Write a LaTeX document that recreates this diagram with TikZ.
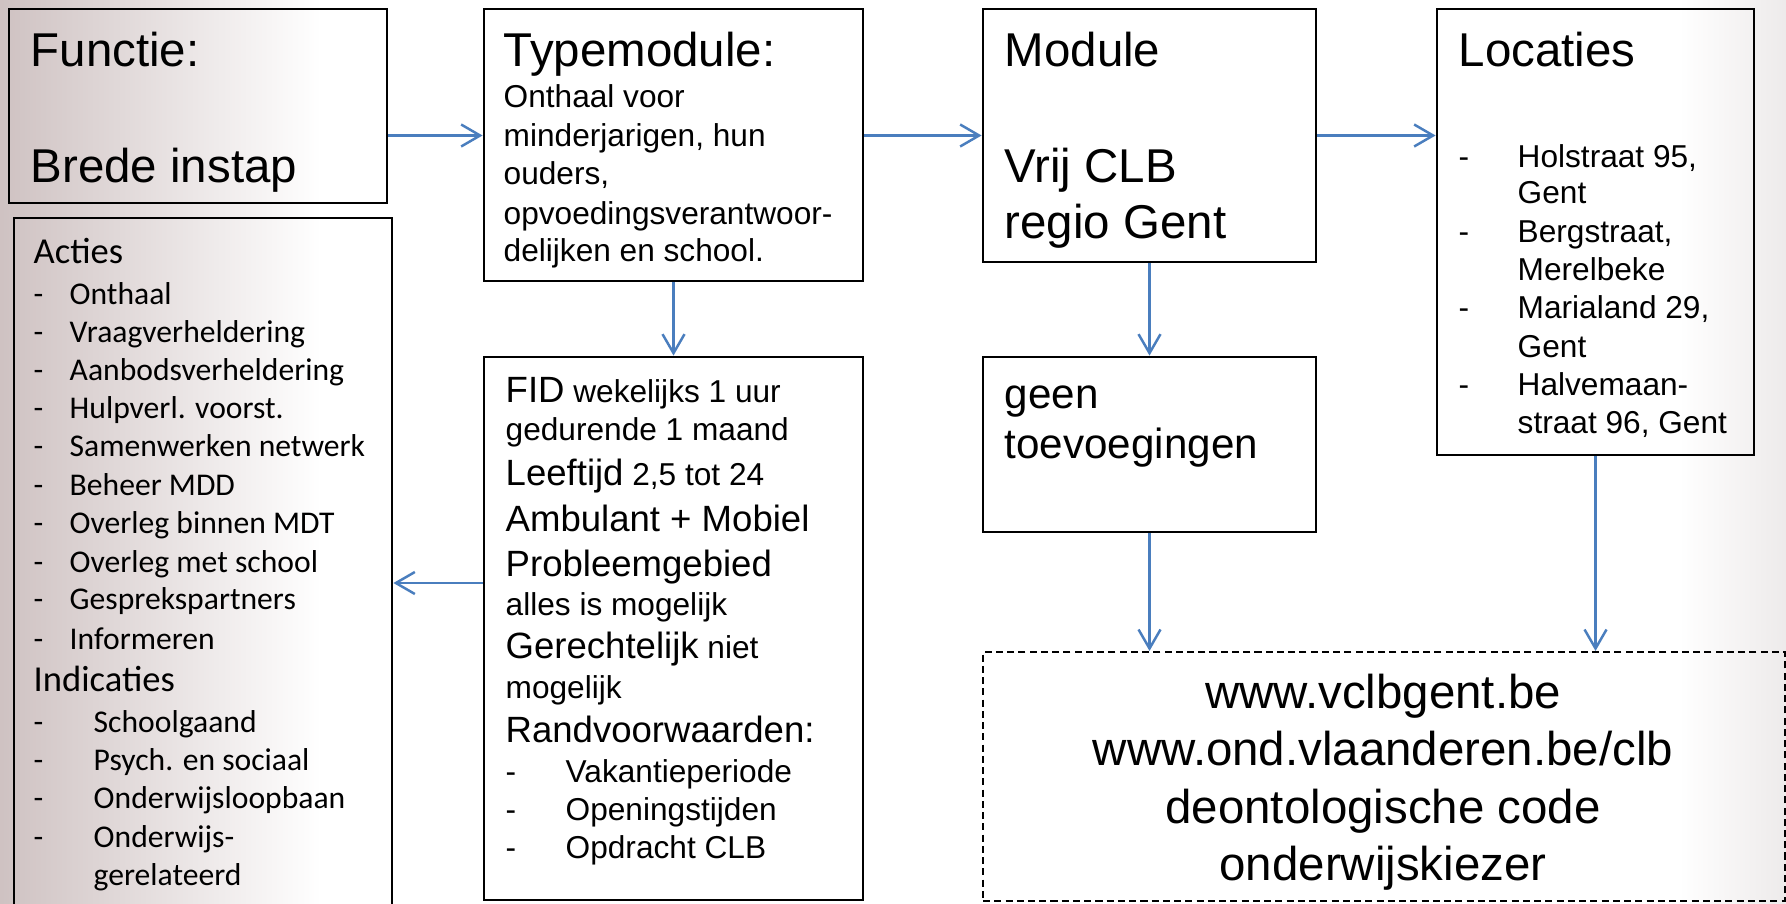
\documentclass[tikz,border=0pt]{standalone}
\usepackage{fontspec}
\setmainfont{Liberation Sans}
\newfontfamily\calfont{Carlito}
\usepackage{tikz}
\usetikzlibrary{arrows.meta,fit}
\definecolor{linkblue}{RGB}{74,126,190}
\pgfdeclarehorizontalshading{slide}{100bp}{rgb(0bp)=(0.81,0.76,0.76); rgb(25bp)=(0.81,0.76,0.76); rgb(34bp)=(1,1,1); rgb(72bp)=(1,1,1); rgb(75bp)=(0.93,0.92,0.92); rgb(100bp)=(0.93,0.92,0.92)}
\newcommand{\headsize}{\fontsize{13.5}{16.2}\selectfont}
\newcommand{\bodysize}{\fontsize{9}{10.8}\selectfont}
\newcommand{\fidbig}{\fontsize{10.4}{12.5}\selectfont}
\newcommand{\geensize}{\fontsize{12}{14.4}\selectfont}

\begin{document}
\begin{tikzpicture}[x=0.1mm,y=-0.1mm,
  box/.style={draw,line width=0.8pt,inner sep=0pt},
  info/.style={draw,line width=0.6pt,dash pattern=on 2pt off 1.2pt,inner sep=0pt},
  link/.style={linkblue,line width=0.7pt,-{Straight Barb[length=1.9mm,width=2.2mm]}},
  txt/.style={anchor=base west,inner sep=0pt}]
\clip (0,0) rectangle (1786,903);
\shade[shading=slide] (0,0) rectangle (1786,903);

% boxes
\node[box,fit={(9,9) (387,203)}] (functie) {};
\node[box,fit={(14,218) (392,948)}] (acties) {};
\node[box,fit={(484,9) (863,281)}] (typemodule) {};
\node[box,fit={(484,357) (863,900)}] (fid) {};
\node[box,fit={(983,9) (1316,262)}] (module) {};
\node[box,fit={(983,357) (1316,532)}] (geen) {};
\node[box,fit={(1437,9) (1754,455)}] (locaties) {};
\node[info,fit={(983,652) (1785,901)}] (info) {};

% functie
\node[txt,font=\headsize] (functiekop) at (30,67) {Functie:};
\node[txt,font=\headsize] (instap) at (30,182) {Brede instap};

% acties en indicaties
\node[txt,font=\calfont\fontsize{10.4}{12.5}\selectfont] (actieskop) at (33,263) {Acties};
\foreach \y/\t [count=\i] in {304/Onthaal,342/Vraagverheldering,380/Aanbodsverheldering,
    418/Hulpverl. voorst.,456/Samenwerken netwerk,495/Beheer MDD,533/Overleg binnen MDT,
    572/Overleg met school,609/Gesprekspartners,649/Informeren} {
  \node[txt,font=\calfont\bodysize] (actiedash\i) at (33,\y) {-};
  \node[txt,font=\calfont\bodysize] (actie\i) at (69,\y) {\t};
}
\node[txt,font=\calfont\fontsize{10.4}{12.5}\selectfont] (indicatieskop) at (33,691) {Indicaties};
\foreach \y/\t [count=\i] in {732/Schoolgaand,770/Psych. en sociaal,808/Onderwijsloopbaan,847/Onderwijs-} {
  \node[txt,font=\calfont\bodysize] (indicatiedash\i) at (33,\y) {-};
  \node[txt,font=\calfont\bodysize] (indicatie\i) at (93,\y) {\t};
}
\node[txt,font=\calfont\bodysize] (indicatie5) at (93,885) {gerelateerd};

% typemodule
\node[txt,font=\headsize] (typekop) at (503,67) {Typemodule:};
\foreach \y/\t [count=\i] in {108/Onthaal voor,147/{minderjarigen, hun},185/{ouders,},
    224/opvoedingsverantwoor-,262/delijken en school.} {
  \node[txt,font=\bodysize] (type\i) at (503,\y) {\t};
}

% fid
\node[txt,font=\bodysize] (fid1) at (505,402) {{\fidbig FID} wekelijks 1 uur};
\node[txt,font=\bodysize] (fid2) at (505,440) {gedurende 1 maand};
\node[txt,font=\bodysize] (fid3) at (505,485) {{\fidbig Leeftijd} 2,5 tot 24};
\node[txt,font=\fidbig] (fid4) at (505,531) {Ambulant + Mobiel};
\node[txt,font=\fidbig] (fid5) at (505,576) {Probleemgebied};
\node[txt,font=\bodysize] (fid6) at (505,615) {alles is mogelijk};
\node[txt,font=\bodysize] (fid7) at (505,658) {{\fidbig Gerechtelijk} niet};
\node[txt,font=\bodysize] (fid8) at (505,698) {mogelijk};
\node[txt,font=\fidbig] (fid9) at (505,742) {Randvoorwaarden:};
\foreach \y/\t [count=\i] in {782/Vakantieperiode,820/Openingstijden,858/Opdracht CLB} {
  \node[txt,font=\bodysize] (randdash\i) at (505,\y) {-};
  \node[txt,font=\bodysize] (rand\i) at (565,\y) {\t};
}

% module
\node[txt,font=\headsize] (modulekop) at (1004,67) {Module};
\node[txt,font=\headsize] (vrijclb) at (1004,182) {Vrij CLB};
\node[txt,font=\headsize] (regio) at (1004,238) {regio Gent};
\node[txt,font=\geensize] (geen1) at (1004,408) {geen};
\node[txt,font=\geensize] (geen2) at (1004,458) {toevoegingen};

% locaties
\node[txt,font=\headsize] (locatieskop) at (1458,67) {Locaties};
\foreach \y/\d/\t [count=\i] in {167/-/{Holstraat 95,},203//Gent,242/-/{Bergstraat,},280//Merelbeke,
    318/-/{Marialand 29,},357//Gent,395/-/Halvemaan-,433//{straat 96, Gent}} {
  \node[txt,font=\bodysize] (locdash\i) at (1458,\y) {\d};
  \node[txt,font=\bodysize] (loc\i) at (1517,\y) {\t};
}

% info
\foreach \y/\t [count=\i] in {708/{www.vclbgent.be},765/{www.ond.vlaanderen.be/clb},
    823/{deontologische code},880/{onderwijskiezer}} {
  \node[anchor=base,inner sep=0pt,font=\headsize] (info\i) at (1383,\y) {\t};
}

% arrows
\draw[link] (functie.east |- module.west) -- (typemodule.west |- module.west);
\draw[link] (typemodule.east |- module.west) -- (module.west);
\draw[link] (module.east) -- (locaties.west |- module.east);
\draw[link] (typemodule.south) -- (fid.north);
\draw[link] (module.south) -- (geen.north);
\draw[link] (geen.south) -- (geen.south |- info.north);
\draw[link] (locaties.south) -- (locaties.south |- info.north);
\draw[link] (fid.west |- acties.east) -- (acties.east);
\end{tikzpicture}
\end{document}
